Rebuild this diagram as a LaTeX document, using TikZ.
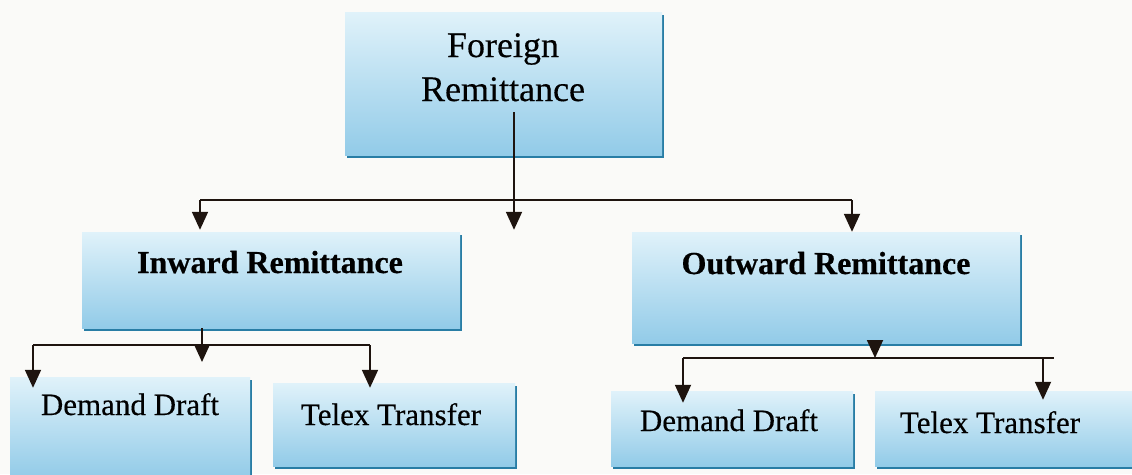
\documentclass[tikz,border=0pt]{standalone}
\usepackage{fontspec}
\setmainfont{Liberation Serif}[FakeBold=0.35,BoldFeatures={FakeBold=0.5}]
\usetikzlibrary{arrows.meta,shadows}
\definecolor{boxtop}{RGB}{224,242,250}
\definecolor{boxbot}{RGB}{146,203,232}
\definecolor{boxshadow}{RGB}{40,125,165}
\definecolor{linecol}{RGB}{30,20,15}
\definecolor{bgcol}{RGB}{250,250,248}
\begin{document}
\begin{tikzpicture}[x=1pt,y=-1pt,
  box/.style={rectangle, inner sep=0pt, draw=none, top color=boxtop, bottom color=boxbot,
    drop shadow={shadow xshift=1.5pt, shadow yshift=-3pt, fill=boxshadow, opacity=1}},
  toptxt/.style={inner sep=0pt, align=center, font=\fontsize{36}{44}\selectfont, text=black},
  subtxt/.style={inner sep=0pt, anchor=base, font=\fontsize{32}{36}\selectfont\bfseries, text=black},
  leaftxt/.style={inner sep=0pt, anchor=base, font=\fontsize{31}{36}\selectfont, text=black},
  ln/.style={draw=linecol, line width=1.8pt},
  arr/.style={draw=linecol, line width=1.8pt, -{Triangle[length=18pt,width=16pt]}}]
\useasboundingbox (0,0) rectangle (1132,474);
\fill[bgcol] (0,0) rectangle (1132,474);

% boxes
\node[box, minimum width=317pt, minimum height=143pt] (fr) at (503.5,83.5) {};
\node[box, minimum width=378pt, minimum height=96pt] (inw) at (271,280) {};
\node[box, minimum width=388pt, minimum height=111pt] (out) at (826,287.5) {};
\node[box, minimum width=240pt, minimum height=101pt] (dd1) at (130,427.5) {};
\node[box, minimum width=242pt, minimum height=83pt] (tt1) at (394,424.5) {};
\node[box, minimum width=242pt, minimum height=75pt] (dd2) at (732,428.5) {};
\node[box, minimum width=262pt, minimum height=75pt] (tt2) at (1006,428.5) {};

% texts
\node[toptxt, anchor=north] (fr-t) at (503,33) {Foreign\\Remittance};
\node[subtxt] (inw-t) at (270,273) {Inward Remittance};
\node[subtxt] (out-t) at (826,274) {Outward Remittance};
\node[leaftxt] (dd1-t) at (130,415) {Demand Draft};
\node[leaftxt] (tt1-t) at (391,425) {Telex Transfer};
\node[leaftxt] (dd2-t) at (729,431) {Demand Draft};
\node[leaftxt] (tt2-t) at (990,433) {Telex Transfer};

% connectors: top level
\coordinate (fr-out) at (514,112);
\coordinate (bus1) at (514,200);
\coordinate (bus1l) at (200,200);
\coordinate (bus1r) at (852,200);
\draw[arr] (fr-out) -- ([yshift=2pt]bus1 |- inw.north);
\draw[ln] (bus1l) -- (bus1r);
\draw[arr] (bus1l) -- ([yshift=2pt]bus1l |- inw.north);
\draw[arr] (bus1r) -- (bus1r |- out.north);

% inward children
\coordinate (bus2) at (202,345);
\coordinate (bus2l) at (33,345);
\coordinate (bus2r) at (370,345);
\draw[arr] (inw.south -| bus2) -- ([yshift=-17pt]bus2);
\draw[ln] (bus2l) -- (bus2r);
\draw[arr] (bus2l) -- ([yshift=-11pt]bus2l |- dd1.north);
\draw[arr] (bus2r) -- ([yshift=-5pt]bus2r |- tt1.north);

% outward children
\coordinate (bus3) at (875,358);
\coordinate (bus3l) at (683,358);
\coordinate (bus3r) at (1054,358);
\coordinate (bus3d) at (1043,358);
\draw[arr] (out.south -| bus3) -- (bus3);
\draw[ln] (bus3l) -- (bus3r);
\draw[arr] (bus3l) -- ([yshift=-12pt]bus3l |- dd2.north);
\draw[arr] (bus3d) -- ([yshift=-9pt]bus3d |- tt2.north);
\end{tikzpicture}
\end{document}
